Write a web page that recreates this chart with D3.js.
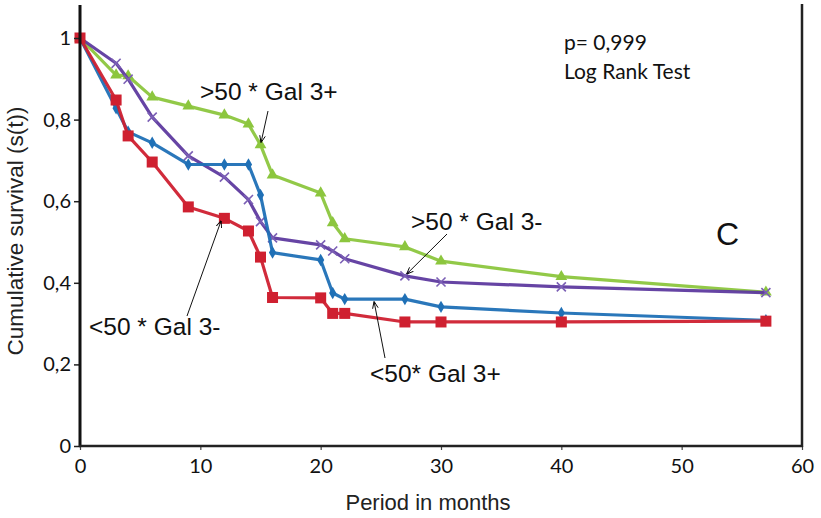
<!DOCTYPE html>
<html><head><meta charset="utf-8">
<script src="https://cdn.jsdelivr.net/npm/d3@7"></script>
<style>body{margin:0;background:#fff}svg{display:block}</style>
</head><body>
<svg id="c" width="821" height="518"></svg>
<script>
// ---- data ----
const monthsGreen  = [0, 3, 4, 6, 9, 12, 14, 15, 16, 20, 21, 22, 27, 30, 40, 57];
const survGreen    = [1, 0.909, 0.907, 0.855, 0.833, 0.811, 0.789, 0.738, 0.664, 0.620, 0.547, 0.508, 0.488, 0.453, 0.415, 0.377];
const monthsPurple = [0, 3, 4, 6, 9, 12, 14, 15, 16, 20, 21, 22, 27, 30, 40, 57];
const survPurple   = [1, 0.938, 0.899, 0.806, 0.711, 0.659, 0.604, 0.550, 0.510, 0.493, 0.478, 0.459, 0.417, 0.402, 0.390, 0.376];
const monthsBlue   = [0, 3, 4, 6, 9, 12, 14, 15, 16, 20, 21, 22, 27, 30, 40, 57];
const survBlue     = [1, 0.828, 0.770, 0.743, 0.690, 0.690, 0.690, 0.615, 0.474, 0.456, 0.375, 0.360, 0.360, 0.341, 0.326, 0.308];
const monthsRed    = [0, 3, 4, 6, 9, 12, 14, 15, 16, 20, 21, 22, 27, 30, 40, 57];
const survRed      = [1, 0.848, 0.760, 0.696, 0.586, 0.558, 0.527, 0.463, 0.364, 0.363, 0.325, 0.325, 0.304, 0.304, 0.304, 0.306];
const xTicks = [0, 10, 20, 30, 40, 50, 60];
const yTicks = [0, 0.2, 0.4, 0.6, 0.8, 1];
const yTickLabels = ["0", "0,2", "0,4", "0,6", "0,8", "1"];
const seriesNames = [">50 * Gal 3+", ">50 * Gal 3-", "<50* Gal 3+", "<50 * Gal 3-"];

const svg = d3.select("#c");
const x = d3.scaleLinear().domain([0, 60]).range([80, 802]);
const y = d3.scaleLinear().domain([0, 1]).range([446, 38]);

const series = [
  {name: seriesNames[0], m: monthsGreen,  s: survGreen,  color: "#8cc63e", shape: "tri"},
  {name: seriesNames[1], m: monthsPurple, s: survPurple, color: "#5e3a9f", shape: "x"},
  {name: seriesNames[2], m: monthsBlue,   s: survBlue,   color: "#1f70b6", shape: "dia"},
  {name: seriesNames[3], m: monthsRed,    s: survRed,    color: "#cf2030", shape: "sq"}
];

// arrow marker
svg.append("defs").append("marker").attr("id","ah").attr("viewBox","0 0 10 10")
  .attr("refX",9).attr("refY",5).attr("markerWidth",7).attr("markerHeight",7)
  .attr("orient","auto-start-reverse")
  .append("path").attr("d","M0,1 L10,5 L0,9").attr("fill","none").attr("stroke","#000").attr("stroke-width",1.3);

// lines
const line = d3.line().x(d => x(d[0])).y(d => y(d[1]));
series.forEach(sr => {
  const pts = sr.m.map((m, i) => [m, sr.s[i]]);
  const g = svg.append("g");
  g.append("path").datum(pts).attr("d", line).attr("fill","none")
    .attr("stroke", sr.color).attr("stroke-width", 3.2).attr("stroke-linejoin","round").attr("opacity",0.95);
  pts.forEach(p => {
    const cx = x(p[0]), cy = y(p[1]);
    if (sr.shape === "sq") {
      g.append("rect").attr("x", cx-5.5).attr("y", cy-5.5).attr("width",11).attr("height",11).attr("fill", sr.color);
    } else if (sr.shape === "tri") {
      g.append("path").attr("d", d3.symbol(d3.symbolTriangle, 60)()).attr("transform",`translate(${cx},${cy})`).attr("fill", sr.color);
    } else if (sr.shape === "dia") {
      g.append("path").attr("d", d3.symbol(d3.symbolDiamond, 45)()).attr("transform",`translate(${cx},${cy})`).attr("fill", sr.color);
    } else {
      g.append("path").attr("d", d3.symbol(d3.symbolX, 55)()).attr("transform",`translate(${cx},${cy})`)
        .attr("fill","none").attr("stroke", "#7b5fb5").attr("stroke-width",1.6);
    }
  });
});

// axes
const tickFont = "Lato, 'Open Sans', sans-serif";
const yAxis = d3.axisLeft(y).tickValues(yTicks).tickFormat((d,i) => yTickLabels[i]).tickSize(6).tickSizeOuter(0);
const gy = svg.append("g").attr("transform","translate(80,0)").call(yAxis);
gy.select(".domain").remove();
gy.append("line").attr("x1",0).attr("x2",0).attr("y1",5).attr("y2",447).attr("stroke","#111").attr("stroke-width",3);
gy.selectAll(".tick line").attr("stroke","#222").attr("stroke-width",1.5);
gy.selectAll(".tick text").attr("font-family",tickFont).attr("font-size",20).attr("fill","#111").attr("x",-9);

const xAxis = d3.axisBottom(x).tickValues(xTicks).tickSize(4).tickSizeOuter(0);
const gx = svg.append("g").attr("transform","translate(0,446)").call(xAxis);
gx.select(".domain").remove();
gx.append("line").attr("x1",79).attr("x2",803).attr("y1",0).attr("y2",0).attr("stroke","#222").attr("stroke-width",2.5);
gx.selectAll(".tick line").attr("stroke","#444").attr("stroke-width",1.2);
gx.selectAll(".tick text").attr("font-family",tickFont).attr("font-size",20).attr("fill","#111").attr("y",8).attr("dy","0.95em");

// right border
svg.append("line").attr("x1",802).attr("x2",802).attr("y1",4).attr("y2",447).attr("stroke","#222").attr("stroke-width",2.5);

// axis titles
svg.append("text").attr("x",428).attr("y",510).attr("text-anchor","middle")
  .attr("font-family","Liberation Sans, Arial, sans-serif").attr("font-size",22).attr("fill","#222").text("Period in months");
svg.append("text").attr("transform","translate(23,231) rotate(-90)").attr("text-anchor","middle")
  .attr("font-family","Liberation Sans, Arial, sans-serif").attr("font-size",22.5).attr("fill","#222").text("Cumulative survival (s(t))");

// stats text
svg.append("text").attr("x",564).attr("y",50).attr("font-family",tickFont).attr("font-size",21).attr("fill","#111").text("p= 0,999");
svg.append("text").attr("x",564).attr("y",79).attr("font-family",tickFont).attr("font-size",21).attr("fill","#111").text("Log Rank Test");
svg.append("text").attr("x",716).attr("y",245).attr("font-family","Liberation Sans, Arial, sans-serif").attr("font-size",32).attr("fill","#111").text("C");

// annotations
const ann = [
  {t: seriesNames[0], tx: 200, ty: 100, x1: 268, y1: 111, m: 15,   v: survGreen[7]},
  {t: seriesNames[1], tx: 411, ty: 230, x1: 447, y1: 234, m: 27,   v: survPurple[12]},
  {t: seriesNames[3], tx: 89,  ty: 335, x1: 187, y1: 316, m: 11.8, v: survRed[5]},
  {t: seriesNames[2], tx: 370, ty: 382, x1: 385, y1: 358, m: 24.4, v: survBlue[11]}
];
ann.forEach(a => {
  svg.append("text").attr("x",a.tx).attr("y",a.ty).attr("font-family","Liberation Sans, Arial, sans-serif")
    .attr("font-size",24.5).attr("fill","#111").text(a.t);
  const ex = x(a.m), ey = y(a.v);
  const dx = ex - a.x1, dy = ey - a.y1, L = Math.hypot(dx,dy);
  svg.append("line").attr("x1",a.x1).attr("y1",a.y1).attr("x2",ex - dx/L*3).attr("y2",ey - dy/L*3)
    .attr("stroke","#111").attr("stroke-width",1).attr("marker-end","url(#ah)");
});
</script>
</body></html>
